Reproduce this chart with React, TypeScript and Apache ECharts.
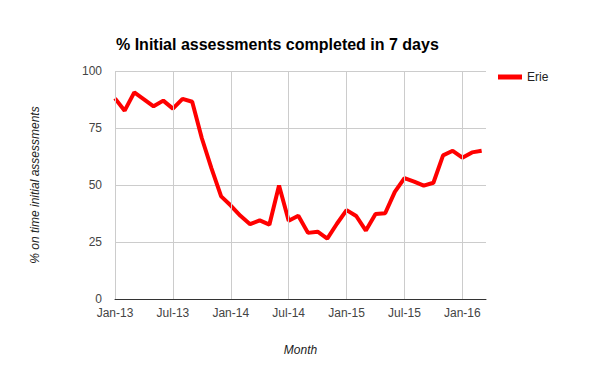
import React, { useEffect, useRef } from "react";
import * as echarts from "echarts";

// month index 0 = Jan-13
const months: number[] = [
  0, 1, 2, 3, 4, 5, 6, 7, 8, 9, 10, 11, 12, 13, 14, 15, 16, 17, 18, 19,
  20, 21, 22, 23, 24, 25, 26, 27, 28, 29, 30, 31, 32, 33, 34, 35, 36, 37, 38,
];
const erie: number[] = [
  88, 82.6, 90.6, 87.6, 84.5, 87, 83.5, 87.8, 86.5, 70.5, 57.3, 45, 41, 36.5,
  32.8, 34.5, 32.6, 49.8, 34.3, 36.5, 29, 29.5, 26.5, 33, 39, 36.4, 30, 37.3,
  37.6, 47, 53, 51.5, 49.7, 51, 63, 65, 62, 64.3, 65,
];
const tickMonths: number[] = [0, 6, 12, 18, 24, 30, 36];
const tickLabels: string[] = ["Jan-13", "Jul-13", "Jan-14", "Jul-14", "Jan-15", "Jul-15", "Jan-16"];
const yTicks: number[] = [0, 25, 50, 75, 100];

const FONT = "'Liberation Sans', Arial, sans-serif";

export default function App() {
  const ref = useRef<HTMLDivElement>(null);
  useEffect(() => {
    if (!ref.current) return;
    const chart = echarts.init(ref.current, undefined, { renderer: "svg" });
    chart.setOption({
      animation: false,
      textStyle: { fontFamily: FONT },
      title: {
        text: "% Initial assessments completed in 7 days",
        left: 111,
        top: 31,
        textStyle: { fontSize: 16, fontWeight: "bold", color: "#000", fontFamily: FONT },
      },
      legend: {
        data: [{ name: "Erie", icon: "rect" }],
        left: 493,
        top: 66,
        itemWidth: 24,
        itemHeight: 5,
        itemGap: 5,
        textStyle: { fontSize: 12, color: "#222", fontFamily: FONT },
      },
      grid: { left: 115, right: 114, top: 71, bottom: 72, containLabel: false },
      xAxis: {
        type: "value",
        min: 0,
        max: 38.45,
        interval: 6,
        name: "Month",
        nameLocation: "middle",
        nameGap: 45,
        nameTextStyle: { fontStyle: "italic", fontSize: 12, color: "#222", fontFamily: FONT },
        axisLine: { show: true, onZero: false, lineStyle: { color: "#333", width: 1 } },
        axisTick: { show: false },
        splitLine: { show: false },
        axisLabel: {
          fontSize: 12,
          color: "#444",
          margin: 8,
          fontFamily: FONT,
          showMaxLabel: false,
          formatter: (v: number) => {
            const i = tickMonths.indexOf(Math.round(v * 1000) / 1000);
            return i >= 0 ? tickLabels[i] : "";
          },
        },
      },
      yAxis: {
        type: "value",
        min: 0,
        max: 100,
        interval: 25,
        name: "% on time initial assessments",
        nameLocation: "middle",
        nameGap: 74,
        nameTextStyle: { fontStyle: "italic", fontSize: 12, color: "#222", fontFamily: FONT },
        axisLine: { show: false },
        axisTick: { show: false },
        splitLine: { show: true, lineStyle: { color: "#ccc", width: 1 } },
        axisLabel: {
          fontSize: 12,
          color: "#444",
          margin: 13,
          fontFamily: FONT,
          formatter: (v: number) => (yTicks.indexOf(v) >= 0 ? String(v) : ""),
        },
      },
      series: [
        {
          name: "grid",
          type: "line",
          data: [],
          z: 1,
          silent: true,
          markLine: {
            silent: true,
            symbol: ["none", "none"],
            label: { show: false },
            lineStyle: { color: "#ccc", width: 1, type: "solid" },
            emphasis: { disabled: true },
            data: tickMonths.map((m) => ({ xAxis: m })),
          },
        },
        {
          name: "Erie",
          type: "line",
          z: 3,
          data: months.map((m, i) => [m, erie[i]]),
          showSymbol: false,
          symbol: "none",
          color: "#ff0000",
          lineStyle: { color: "#ff0000", width: 4 },
        },
      ],
    });
    return () => chart.dispose();
  }, []);
  return <div ref={ref} style={{ width: 600, height: 371, margin: -8 }} />;
}
